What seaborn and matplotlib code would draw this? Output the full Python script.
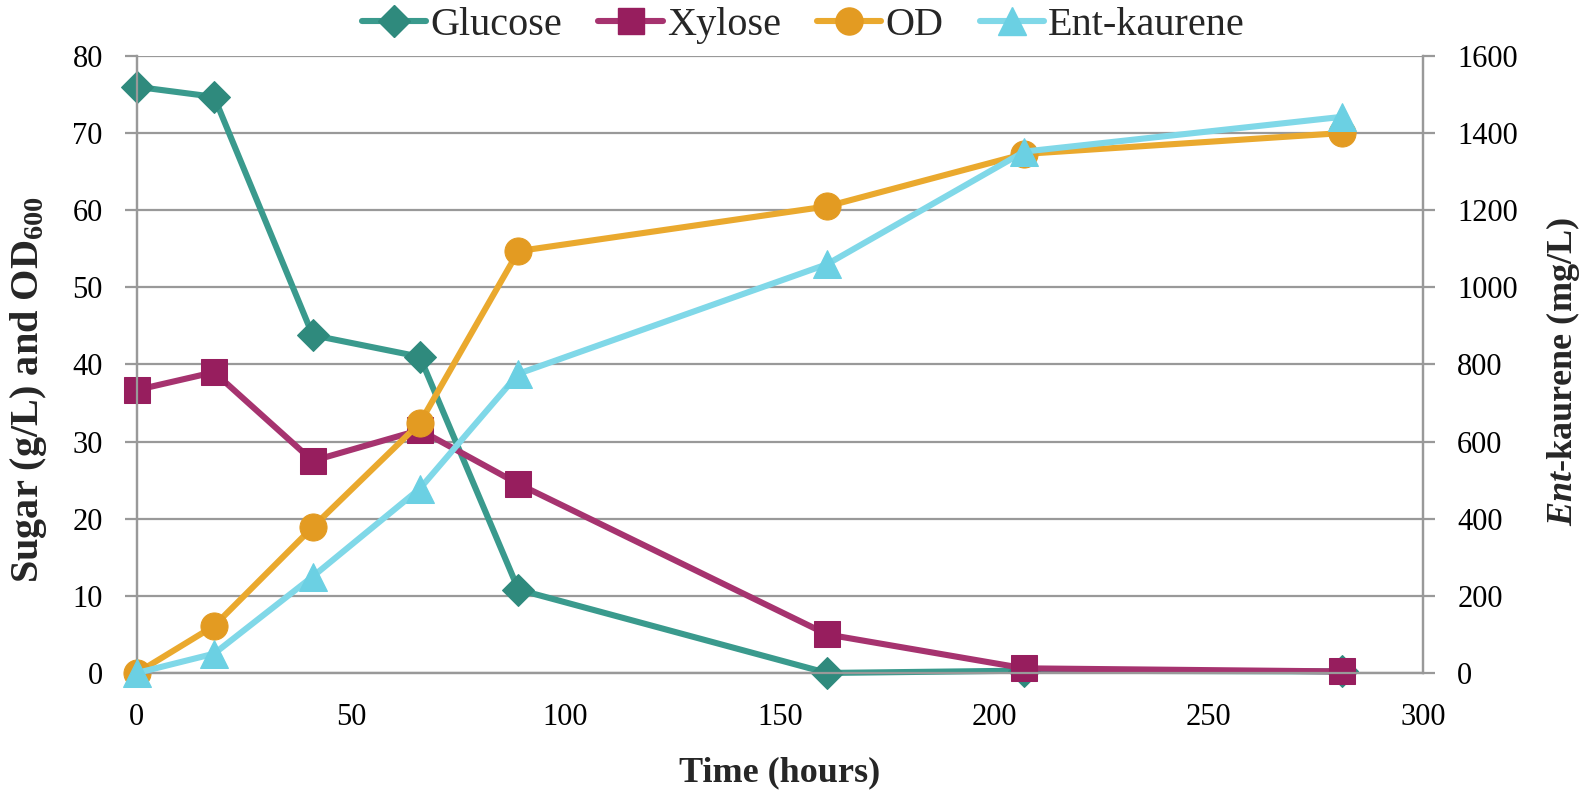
import pandas as pd
import seaborn as sns
import matplotlib.pyplot as plt
from matplotlib.lines import Line2D

# data
time_h = [0, 18, 41, 66, 89, 161, 207, 281]
glucose = [76.0, 74.7, 43.8, 41.0, 10.8, 0.0, 0.3, 0.2]
xylose = [36.7, 39.0, 27.5, 31.5, 24.5, 5.0, 0.6, 0.2]
od = [0.0, 6.1, 18.9, 32.4, 54.7, 60.5, 67.3, 70.0]
kaurene = [0, 50, 250, 478, 776, 1060, 1352, 1442]

left_ticks = list(range(0, 81, 10))
right_ticks = list(range(0, 1601, 200))
x_ticks = list(range(0, 301, 50))

sns.set_style("white")
plt.rcParams["font.family"] = ["Liberation Serif", "DejaVu Serif"]
plt.rcParams["mathtext.fontset"] = "custom"
plt.rcParams["mathtext.rm"] = "Liberation Serif"
plt.rcParams["mathtext.it"] = "Liberation Serif:italic:bold"
plt.rcParams["mathtext.bf"] = "Liberation Serif:bold"

df = pd.DataFrame({"Time": time_h, "Glucose": glucose, "Xylose": xylose,
                   "OD": od, "Ent-kaurene": kaurene})

styles = {
    "Glucose": dict(color="#3a9a8d", marker="D", mfc="#2f8a7d", ms=16),
    "Xylose": dict(color="#a6336f", marker="s", mfc="#971e5e", ms=19),
    "OD": dict(color="#eaa92e", marker="o", mfc="#e39b22", ms=19.5),
    "Ent-kaurene": dict(color="#80d8e8", marker="^", mfc="#6bd0e3", ms=19.5),
}
lw = 4.4

fig = plt.figure(figsize=(15.94, 7.95), dpi=100)
ax = fig.add_axes([0.0859, 0.1535, 0.8068, 0.7761])
ax2 = ax.twinx()

for name in ["Glucose", "Xylose", "OD"]:
    s = styles[name]
    sns.lineplot(data=df, x="Time", y=name, ax=ax, color=s["color"], lw=lw,
                 marker=s["marker"], markersize=s["ms"], markerfacecolor=s["mfc"],
                 markeredgecolor=s["mfc"], clip_on=False, zorder=3)
s = styles["Ent-kaurene"]
sns.lineplot(data=df, x="Time", y="Ent-kaurene", ax=ax2, color=s["color"], lw=lw,
             marker=s["marker"], markersize=s["ms"], markerfacecolor=s["mfc"],
             markeredgecolor=s["mfc"], clip_on=False, zorder=3)

grey = "#999999"
ax.set_xlim(0, 300)
ax.set_ylim(0, 80)
ax2.set_ylim(0, 1600)
ax.set_xticks(x_ticks)
ax.set_yticks(left_ticks)
ax2.set_yticks(right_ticks)
ax.yaxis.grid(True, color=grey, lw=1.6)
ax.set_axisbelow(True)

for a in (ax, ax2):
    a.spines["top"].set_visible(False)
    for sp in ("left", "right", "bottom"):
        a.spines[sp].set_color(grey)
        a.spines[sp].set_linewidth(1.6)
    a.tick_params(axis="both", colors=grey, labelcolor="black", labelsize=22,
                  length=8.6, width=1.6, direction="out")
ax.tick_params(axis="x", pad=13)
ax.tick_params(axis="y", pad=16)
ax2.tick_params(axis="y", pad=16)

ax.set_xlabel("Time (hours)", fontsize=26, fontweight="bold")
ax.set_ylabel(r"Sugar (g/L) and $\mathbf{OD_{600}}$", fontsize=29,
              fontweight="bold")
ax2.set_ylabel(r"$\mathit{Ent}$-kaurene (mg/L)", fontsize=26,
               fontweight="bold")
ax.xaxis.set_label_coords(0.5, -0.135)
ax.yaxis.set_label_coords(-0.068, 0.459)
ax2.yaxis.set_label_coords(1.094, 0.488)

handles = []
for name, s in styles.items():
    handles.append(Line2D([], [], color=s["color"], lw=lw, marker=s["marker"],
                          markersize=s["ms"], markerfacecolor=s["mfc"],
                          markeredgecolor=s["mfc"], label=name))
fig.legend(handles=handles, loc="center", bbox_to_anchor=(0.504, 0.968),
           ncol=4, frameon=False, fontsize=29, handlelength=1.6,
           handletextpad=0.1, columnspacing=0.9)

fig.savefig("out.png", dpi=100)
